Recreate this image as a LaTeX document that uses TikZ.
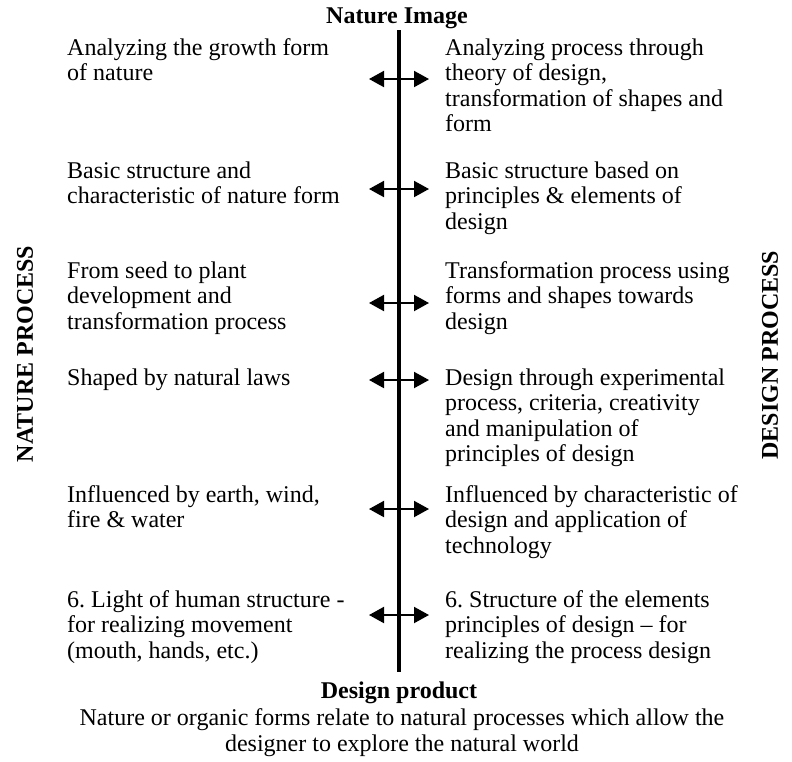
\documentclass[tikz,border=0pt]{standalone}
\usepackage{fontspec}
\setmainfont{Liberation Serif}
\usetikzlibrary{arrows.meta}
\frenchspacing

\tikzset{
    txt/.style={anchor=base west, align=left, inner sep=0pt,
        font=\fontsize{24}{25.5}\selectfont},
    head/.style={anchor=base, inner sep=0pt,
        font=\fontsize{24}{25.5}\selectfont\bfseries},
    side/.style={rotate=90, inner sep=0pt,
        font=\fontsize{24}{25.5}\selectfont\bfseries},
    link/.style={line width=2pt, {Triangle[length=15pt,width=16pt]}-{Triangle[length=15pt,width=16pt]}}
}

\begin{document}
\begin{tikzpicture}[x=1pt, y=-1pt]
\useasboundingbox (0,0) rectangle (792,761);

\def\lx{67}
\def\rx{445}

% Axis
\coordinate (top) at (399,30);
\coordinate (bot) at (399,672);
\draw[line width=4pt] (top) -- (bot);

\node[head] (image) at (397,23) {Nature Image};
\node[head] (product) at (399,698) {Design product};

% Side titles
\node[side] (nat) at (25,354) {NATURE PROCESS};
\node[side] (des) at (770,355) {DESIGN PROCESS};

% Nature side (placed at the baseline of the last line)
\node[txt] (n1) at (\lx,80.5) {Analyzing the growth form\\of nature};
\node[txt] (n2) at (\lx,203.5) {Basic structure and\\characteristic of nature form};
\node[txt] (n3) at (\lx,329) {From seed to plant\\development and\\transformation process};
\node[txt] (n4) at (\lx,385) {Shaped by natural laws};
\node[txt] (n5) at (\lx,527.5) {Influenced by earth, wind,\\fire \& water};
\node[txt] (n6) at (\lx,658) {6. Light of human structure -\\for realizing movement\\(mouth, hands, etc.)};

% Design side
\node[txt] (d1) at (\rx,131.5) {Analyzing process through\\theory of design,\\transformation of shapes and\\form};
\node[txt] (d2) at (\rx,229) {Basic structure based on\\principles \& elements of\\design};
\node[txt] (d3) at (\rx,329) {Transformation process using\\forms and shapes towards\\design};
\node[txt] (d4) at (\rx,461.5) {Design through experimental\\process, criteria, creativity\\and manipulation of\\principles of design};
\node[txt] (d5) at (\rx,553) {Influenced by characteristic of\\design and application of\\technology};
\node[txt] (d6) at (\rx,658) {6. Structure of the elements\\principles of design -- for\\realizing the process design};

% Double arrows across the axis
\foreach \y [count=\i] in {79,189,303,380,509,615} {
    \coordinate (al\i) at (369,\y);
    \coordinate (ar\i) at (429,\y);
    \draw[link] (al\i) -- (ar\i);
}

% Caption
\node[anchor=base, align=center, inner sep=0pt,
    font=\fontsize{24}{25.5}\selectfont] (cap) at (402,751)
    {Nature or organic forms relate to natural processes which allow the\\designer to explore the natural world};

\end{tikzpicture}
\end{document}
